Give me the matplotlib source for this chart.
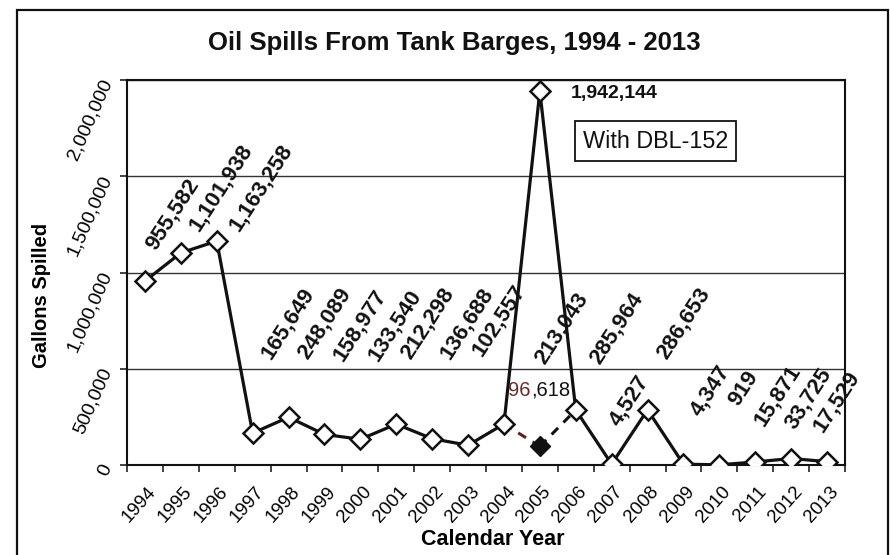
import matplotlib
matplotlib.use("Agg")
import matplotlib.pyplot as plt
from matplotlib.patches import Rectangle
from matplotlib.ticker import FuncFormatter, FixedLocator
import matplotlib.transforms as mtransforms
import numpy as np

plt.rcParams['font.family'] = ['Liberation Sans', 'DejaVu Sans']

# ---- data ----
years = [str(y) for y in range(1994, 2014)]
gallons = [955582, 1101938, 1163258, 165649, 248089, 158977, 133540, 212298,
           136688, 102557, 213043, 1942144, 285964, 4527, 286653, 4347, 919,
           15871, 33725, 17529]
alt_years = ['2004', '2005', '2006']
alt_gallons = [213043, 96618, 285964]   # 2005 without DBL-152
yticks = [0, 500000, 1000000, 1500000, 2000000]
title = "Oil Spills From Tank Barges, 1994 - 2013"
box_text = "With DBL-152"

# label offsets (pixels) for rotated data labels; 2005 handled separately
label_dx = [10, 18, 22, 18, 19, 18, 17, 14, 18, 14, 40, None, 24, 7, 19, 16, 19, 8, 3, -4]
label_dy = [30, 21, 9, 73, 57, 72, 77, 64, 79, 88, 59, None, 45, 37, 50, 47, 58, 35, 28, 29]

fig = plt.figure(figsize=(8.9, 5.55), dpi=100)
ax = fig.add_axes([127/890, 1-465/555, 718/890, 385/555])

x = np.arange(len(years))
xa = np.array([years.index(y) for y in alt_years])

# dashed alternative
ax.plot(xa[:2], alt_gallons[:2], color='#5a2222', lw=2.2, ls=(0, (3, 2.5)), zorder=3)
ax.plot(xa[1:], alt_gallons[1:], color='#111111', lw=2.2, ls=(0, (3, 2.5)), zorder=3)
ax.plot([xa[1]], [alt_gallons[1]], marker='D', ms=10, color='#111111', ls='none', zorder=4)

ax.plot(x, gallons, color='#111111', lw=2.3, marker='D', ms=10,
        mfc='white', mec='#111111', mew=1.8, zorder=5)

ax.set_xlim(-0.5, len(years) - 0.5)
ax.set_ylim(0, 2000000)
ax.set_yticks(yticks)
ax.yaxis.set_major_formatter(FuncFormatter(lambda v, p: f"{int(v):,}"))
ax.grid(axis='y', color='#333333', lw=1.0)
ax.set_axisbelow(True)

ax.set_xticks(x)
ax.set_xticklabels(years)
ax.xaxis.set_minor_locator(FixedLocator(np.arange(-0.5, len(years), 1.0)))
ax.tick_params(axis='x', which='major', length=0, pad=13, labelsize=13.5)
ax.tick_params(axis='x', which='minor', length=5, width=1.2, direction='out', color='#222')
ax.tick_params(axis='y', length=5, width=1.2, direction='out', pad=9, labelsize=14, color='#222')

off = mtransforms.ScaledTranslation(2/100, 0, fig.dpi_scale_trans)
for lab in ax.get_xticklabels():
    lab.set_rotation(48)
    lab.set_ha('right')
    lab.set_va('top')
    lab.set_rotation_mode('anchor')
    lab.set_transform(lab.get_transform() + off)
for lab in ax.get_yticklabels():
    lab.set_rotation(66)
    lab.set_ha('right')
    lab.set_va('center')
    lab.set_rotation_mode('anchor')

for s in ax.spines.values():
    s.set_color('#111111')
    s.set_linewidth(1.5)

# data labels
for i, v in enumerate(gallons):
    if label_dx[i] is None:
        ax.annotate(f"{v:,}", xy=(i, v), xytext=(31, -2), textcoords='offset pixels',
                    ha='left', va='center', fontsize=14, fontweight='bold', color='#111')
        continue
    ax.annotate(f"{v:,}", xy=(i, v), xytext=(label_dx[i], label_dy[i]),
                textcoords='offset pixels', ha='left', va='baseline',
                rotation=57, rotation_mode='anchor', fontsize=16,
                fontweight='bold', color='#111', zorder=6)

# alt label, "96" dark red and ",618" black
alt_str = f"{alt_gallons[1]:,}"
head, tail = alt_str.split(',', 1)
ax.annotate(head, xy=(xa[1], alt_gallons[1]), xytext=(-9, 56), textcoords='offset pixels',
            ha='right', va='center', fontsize=14.5, color='#6a2a2a', zorder=6)
ax.annotate(',' + tail, xy=(xa[1], alt_gallons[1]), xytext=(-9, 56), textcoords='offset pixels',
            ha='left', va='center', fontsize=14.5, color='#111', zorder=6)

# box label
ax.text((583-127)/718, (465-141)/385, box_text, transform=ax.transAxes,
        ha='left', va='center', fontsize=16.8, color='#111',
        bbox=dict(boxstyle='square,pad=0.35', fc='white', ec='#111', lw=1.3))

ax.set_ylabel("Gallons Spilled", fontsize=14.5, fontweight='bold')
ax.yaxis.set_label_coords(-0.106, 0.44)
ax.set_xlabel("Calendar Year", fontsize=15.5, fontweight='bold')
ax.xaxis.set_label_coords(0.51, -0.167)

fig.text(0.51, 1-43/555, title, ha='center', va='center', fontsize=18.5, fontweight='bold', color='#111')

fig.patches.append(Rectangle((17/890, -0.02), (888-17)/890, 1-10/555+0.02,
                             transform=fig.transFigure, fill=False, ec='#111', lw=1.6))

fig.savefig("out.png", dpi=100)
